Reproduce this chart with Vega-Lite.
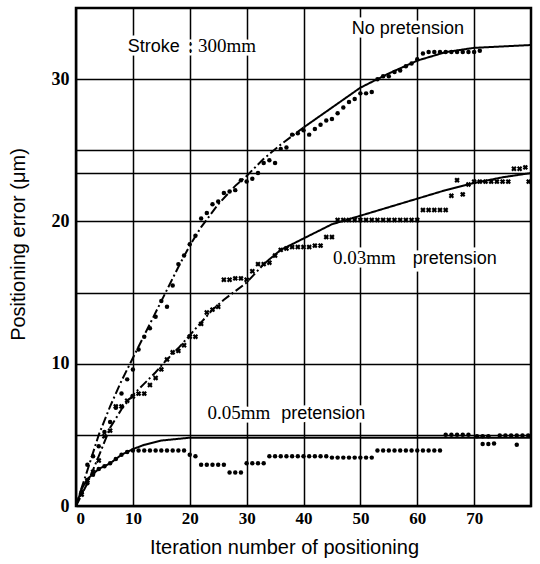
{
  "$schema": "https://vega.github.io/schema/vega-lite/v6.json",
  "width": 455,
  "height": 498,
  "autosize": "none",
  "padding": {"left": 76, "top": 8, "right": 9, "bottom": 58},
  "background": "white",
  "config": {
    "view": {"stroke": "black", "strokeWidth": 2.5},
    "axis": {"gridColor": "black", "gridWidth": 1.5, "gridOpacity": 1, "domain": false, "ticks": false,
      "labelFont": "Liberation Serif", "labelFontWeight": "bold", "labelFontSize": 17, "labelColor": "black",
      "titleFont": "Liberation Sans", "titleFontWeight": "normal", "titleColor": "black"}
  },
  "datasets": {
    "curves": [
      {"s": "np", "seg": "dash", "x": 0, "y": 0}, {"s": "np", "seg": "dash", "x": 1, "y": 1.3}, {"s": "np", "seg": "dash", "x": 2, "y": 2.5},
      {"s": "np", "seg": "dash", "x": 4, "y": 5}, {"s": "np", "seg": "dash", "x": 6, "y": 7}, {"s": "np", "seg": "dash", "x": 8, "y": 8.8},
      {"s": "np", "seg": "dash", "x": 10, "y": 10.4}, {"s": "np", "seg": "dash", "x": 12, "y": 12}, {"s": "np", "seg": "dash", "x": 15, "y": 14.4},
      {"s": "np", "seg": "dash", "x": 18, "y": 16.8}, {"s": "np", "seg": "dash", "x": 20, "y": 18.3}, {"s": "np", "seg": "dash", "x": 22, "y": 19.6},
      {"s": "np", "seg": "dash", "x": 25, "y": 21.2}, {"s": "np", "seg": "dash", "x": 28, "y": 22.5}, {"s": "np", "seg": "dash", "x": 30, "y": 23.2},
      {"s": "np", "seg": "dash", "x": 33, "y": 24.4}, {"s": "np", "seg": "dash", "x": 36, "y": 25.4}, {"s": "np", "seg": "dash", "x": 40, "y": 26.6},
      {"s": "np", "seg": "solid", "x": 40, "y": 26.6}, {"s": "np", "seg": "solid", "x": 45, "y": 28}, {"s": "np", "seg": "solid", "x": 50, "y": 29.4},
      {"s": "np", "seg": "solid", "x": 55, "y": 30.4}, {"s": "np", "seg": "solid", "x": 60, "y": 31.3}, {"s": "np", "seg": "solid", "x": 65, "y": 31.9},
      {"s": "np", "seg": "solid", "x": 70, "y": 32.2}, {"s": "np", "seg": "solid", "x": 75, "y": 32.3}, {"s": "np", "seg": "solid", "x": 80, "y": 32.4},
      {"s": "p3", "seg": "dash", "x": 0, "y": 0}, {"s": "p3", "seg": "dash", "x": 2, "y": 1.6}, {"s": "p3", "seg": "dash", "x": 4, "y": 3.5},
      {"s": "p3", "seg": "dash", "x": 6, "y": 5.5}, {"s": "p3", "seg": "dash", "x": 8, "y": 6.8}, {"s": "p3", "seg": "dash", "x": 10, "y": 7.8},
      {"s": "p3", "seg": "dash", "x": 12, "y": 8.6}, {"s": "p3", "seg": "dash", "x": 14, "y": 9.4}, {"s": "p3", "seg": "dash", "x": 16, "y": 10.3},
      {"s": "p3", "seg": "dash", "x": 18, "y": 11.1}, {"s": "p3", "seg": "dash", "x": 20, "y": 12}, {"s": "p3", "seg": "dash", "x": 22, "y": 12.9},
      {"s": "p3", "seg": "dash", "x": 24, "y": 13.8}, {"s": "p3", "seg": "dash", "x": 26, "y": 14.5}, {"s": "p3", "seg": "dash", "x": 28, "y": 15.1},
      {"s": "p3", "seg": "dash", "x": 30, "y": 15.7}, {"s": "p3", "seg": "dash", "x": 33, "y": 17},
      {"s": "p3", "seg": "solid", "x": 33, "y": 17}, {"s": "p3", "seg": "solid", "x": 36, "y": 18}, {"s": "p3", "seg": "solid", "x": 40, "y": 18.8},
      {"s": "p3", "seg": "solid", "x": 45, "y": 19.8}, {"s": "p3", "seg": "solid", "x": 50, "y": 20.4}, {"s": "p3", "seg": "solid", "x": 55, "y": 21},
      {"s": "p3", "seg": "solid", "x": 60, "y": 21.6}, {"s": "p3", "seg": "solid", "x": 65, "y": 22.2}, {"s": "p3", "seg": "solid", "x": 70, "y": 22.7},
      {"s": "p3", "seg": "solid", "x": 75, "y": 23.1}, {"s": "p3", "seg": "solid", "x": 80, "y": 23.4},
      {"s": "p5", "seg": "solid", "x": 0, "y": 0}, {"s": "p5", "seg": "solid", "x": 1, "y": 1.2}, {"s": "p5", "seg": "solid", "x": 2, "y": 1.9},
      {"s": "p5", "seg": "solid", "x": 4, "y": 2.6}, {"s": "p5", "seg": "solid", "x": 6, "y": 3.0}, {"s": "p5", "seg": "solid", "x": 8, "y": 3.6},
      {"s": "p5", "seg": "solid", "x": 10, "y": 4.0}, {"s": "p5", "seg": "solid", "x": 12, "y": 4.3}, {"s": "p5", "seg": "solid", "x": 15, "y": 4.6},
      {"s": "p5", "seg": "solid", "x": 20, "y": 4.8}, {"s": "p5", "seg": "solid", "x": 80, "y": 4.8}
    ],
    "dots": [
      {"s": "np", "x": 1, "y": 1.0}, {"s": "np", "x": 2, "y": 2.9}, {"s": "np", "x": 3, "y": 3.5}, {"s": "np", "x": 4, "y": 4.2}, {"s": "np", "x": 5, "y": 5.2},
      {"s": "np", "x": 6, "y": 5.9}, {"s": "np", "x": 7, "y": 6.9}, {"s": "np", "x": 8, "y": 7.9}, {"s": "np", "x": 9, "y": 8.9}, {"s": "np", "x": 10, "y": 9.6},
      {"s": "np", "x": 11, "y": 11.0}, {"s": "np", "x": 12, "y": 11.9}, {"s": "np", "x": 13, "y": 12.5}, {"s": "np", "x": 14, "y": 13.3}, {"s": "np", "x": 15, "y": 14.4},
      {"s": "np", "x": 16, "y": 14.0}, {"s": "np", "x": 17, "y": 15.5}, {"s": "np", "x": 18, "y": 17.0}, {"s": "np", "x": 19, "y": 17.6}, {"s": "np", "x": 20, "y": 18.4},
      {"s": "np", "x": 21, "y": 19.0}, {"s": "np", "x": 22, "y": 20.2}, {"s": "np", "x": 23, "y": 20.6}, {"s": "np", "x": 24, "y": 21.2}, {"s": "np", "x": 25, "y": 21.4},
      {"s": "np", "x": 26, "y": 22.0}, {"s": "np", "x": 27, "y": 22.1}, {"s": "np", "x": 28, "y": 22.2}, {"s": "np", "x": 29, "y": 22.9}, {"s": "np", "x": 30, "y": 22.8},
      {"s": "np", "x": 31, "y": 23.0}, {"s": "np", "x": 32, "y": 23.4}, {"s": "np", "x": 33, "y": 24.1}, {"s": "np", "x": 34, "y": 24.3}, {"s": "np", "x": 35, "y": 24.1},
      {"s": "np", "x": 36, "y": 25.1}, {"s": "np", "x": 37, "y": 25.2}, {"s": "np", "x": 38, "y": 26.1}, {"s": "np", "x": 39, "y": 26.2}, {"s": "np", "x": 40, "y": 26.4},
      {"s": "np", "x": 41, "y": 26.1}, {"s": "np", "x": 42, "y": 26.5}, {"s": "np", "x": 43, "y": 26.8}, {"s": "np", "x": 44, "y": 27.1}, {"s": "np", "x": 45, "y": 27.2},
      {"s": "np", "x": 46, "y": 27.6}, {"s": "np", "x": 47, "y": 28.0}, {"s": "np", "x": 48, "y": 28.4}, {"s": "np", "x": 49, "y": 28.6}, {"s": "np", "x": 50, "y": 29.0},
      {"s": "np", "x": 51, "y": 29.0}, {"s": "np", "x": 52, "y": 29.1}, {"s": "np", "x": 53, "y": 30.0}, {"s": "np", "x": 54, "y": 30.2}, {"s": "np", "x": 55, "y": 30.2},
      {"s": "np", "x": 56, "y": 30.5}, {"s": "np", "x": 57, "y": 30.6}, {"s": "np", "x": 58, "y": 30.9}, {"s": "np", "x": 59, "y": 31.1}, {"s": "np", "x": 60, "y": 31.4},
      {"s": "np", "x": 61, "y": 31.8}, {"s": "np", "x": 62, "y": 31.9}, {"s": "np", "x": 63, "y": 31.9}, {"s": "np", "x": 64, "y": 31.9}, {"s": "np", "x": 65, "y": 31.9},
      {"s": "np", "x": 66, "y": 31.9}, {"s": "np", "x": 67, "y": 31.9}, {"s": "np", "x": 68, "y": 31.9}, {"s": "np", "x": 69, "y": 31.9}, {"s": "np", "x": 70, "y": 31.9},
      {"s": "np", "x": 71, "y": 32.0},
      {"s": "p5", "x": 1, "y": 1.0}, {"s": "p5", "x": 2, "y": 1.6}, {"s": "p5", "x": 3, "y": 2.2}, {"s": "p5", "x": 4, "y": 2.6}, {"s": "p5", "x": 5, "y": 2.8},
      {"s": "p5", "x": 6, "y": 3.0}, {"s": "p5", "x": 7, "y": 3.3}, {"s": "p5", "x": 8, "y": 3.6}, {"s": "p5", "x": 9, "y": 3.8}, {"s": "p5", "x": 10, "y": 3.9},
      {"s": "p5", "x": 11, "y": 3.9}, {"s": "p5", "x": 12, "y": 3.9}, {"s": "p5", "x": 13, "y": 3.9}, {"s": "p5", "x": 14, "y": 3.9}, {"s": "p5", "x": 15, "y": 3.9},
      {"s": "p5", "x": 16, "y": 3.9}, {"s": "p5", "x": 17, "y": 3.9}, {"s": "p5", "x": 18, "y": 3.9}, {"s": "p5", "x": 19, "y": 3.9}, {"s": "p5", "x": 20, "y": 3.6},
      {"s": "p5", "x": 21, "y": 3.5}, {"s": "p5", "x": 22, "y": 2.9}, {"s": "p5", "x": 23, "y": 2.9}, {"s": "p5", "x": 24, "y": 2.9}, {"s": "p5", "x": 25, "y": 2.9},
      {"s": "p5", "x": 26, "y": 2.9}, {"s": "p5", "x": 27, "y": 2.35}, {"s": "p5", "x": 28, "y": 2.35}, {"s": "p5", "x": 29, "y": 2.35}, {"s": "p5", "x": 30, "y": 3.0},
      {"s": "p5", "x": 31, "y": 3.0}, {"s": "p5", "x": 32, "y": 3.0}, {"s": "p5", "x": 33, "y": 3.0}, {"s": "p5", "x": 34, "y": 3.5}, {"s": "p5", "x": 35, "y": 3.5},
      {"s": "p5", "x": 36, "y": 3.5}, {"s": "p5", "x": 37, "y": 3.5}, {"s": "p5", "x": 38, "y": 3.5}, {"s": "p5", "x": 39, "y": 3.5}, {"s": "p5", "x": 40, "y": 3.5},
      {"s": "p5", "x": 41, "y": 3.5}, {"s": "p5", "x": 42, "y": 3.5}, {"s": "p5", "x": 43, "y": 3.5}, {"s": "p5", "x": 44, "y": 3.5}, {"s": "p5", "x": 45, "y": 3.4},
      {"s": "p5", "x": 46, "y": 3.4}, {"s": "p5", "x": 47, "y": 3.4}, {"s": "p5", "x": 48, "y": 3.4}, {"s": "p5", "x": 49, "y": 3.4}, {"s": "p5", "x": 50, "y": 3.4},
      {"s": "p5", "x": 51, "y": 3.4}, {"s": "p5", "x": 52, "y": 3.4}, {"s": "p5", "x": 53, "y": 3.9}, {"s": "p5", "x": 54, "y": 3.9}, {"s": "p5", "x": 55, "y": 3.9},
      {"s": "p5", "x": 56, "y": 3.9}, {"s": "p5", "x": 57, "y": 3.9}, {"s": "p5", "x": 58, "y": 3.9}, {"s": "p5", "x": 59, "y": 3.9}, {"s": "p5", "x": 60, "y": 3.9},
      {"s": "p5", "x": 61, "y": 3.9}, {"s": "p5", "x": 62, "y": 3.9}, {"s": "p5", "x": 63, "y": 3.9}, {"s": "p5", "x": 64, "y": 3.9}, {"s": "p5", "x": 65, "y": 5.0},
      {"s": "p5", "x": 66, "y": 5.0}, {"s": "p5", "x": 67, "y": 5.0}, {"s": "p5", "x": 68, "y": 5.0}, {"s": "p5", "x": 69, "y": 5.0}, {"s": "p5", "x": 70.5, "y": 4.9},
      {"s": "p5", "x": 71.5, "y": 4.9}, {"s": "p5", "x": 72.5, "y": 4.9}, {"s": "p5", "x": 71.5, "y": 4.35}, {"s": "p5", "x": 72.5, "y": 4.35}, {"s": "p5", "x": 73.5, "y": 4.4},
      {"s": "p5", "x": 74.5, "y": 4.95}, {"s": "p5", "x": 75.5, "y": 4.95}, {"s": "p5", "x": 76.5, "y": 4.95}, {"s": "p5", "x": 77.5, "y": 4.95}, {"s": "p5", "x": 78.5, "y": 4.95},
      {"s": "p5", "x": 79.5, "y": 4.95}, {"s": "p5", "x": 77.5, "y": 4.3}
    ],
    "crosses": [
      {"s": "p3", "x": 1, "y": 0.8}, {"s": "p3", "x": 2, "y": 1.8}, {"s": "p3", "x": 3, "y": 2.4}, {"s": "p3", "x": 4, "y": 3.2}, {"s": "p3", "x": 5, "y": 4.9},
      {"s": "p3", "x": 6, "y": 5.3}, {"s": "p3", "x": 7, "y": 7.0}, {"s": "p3", "x": 8, "y": 7.0}, {"s": "p3", "x": 9, "y": 7.4}, {"s": "p3", "x": 10, "y": 7.7},
      {"s": "p3", "x": 11, "y": 7.9}, {"s": "p3", "x": 12, "y": 7.9}, {"s": "p3", "x": 13, "y": 8.5}, {"s": "p3", "x": 14, "y": 9.0}, {"s": "p3", "x": 15, "y": 9.6},
      {"s": "p3", "x": 16, "y": 10.3}, {"s": "p3", "x": 17, "y": 10.8}, {"s": "p3", "x": 18, "y": 10.9}, {"s": "p3", "x": 19, "y": 11.3}, {"s": "p3", "x": 20, "y": 11.9},
      {"s": "p3", "x": 21, "y": 11.9}, {"s": "p3", "x": 22, "y": 12.8}, {"s": "p3", "x": 23, "y": 13.6}, {"s": "p3", "x": 24, "y": 13.8}, {"s": "p3", "x": 25, "y": 14.0},
      {"s": "p3", "x": 26, "y": 15.9}, {"s": "p3", "x": 27, "y": 15.9}, {"s": "p3", "x": 28, "y": 16.0}, {"s": "p3", "x": 29, "y": 16.0}, {"s": "p3", "x": 30, "y": 15.9},
      {"s": "p3", "x": 31, "y": 16.5}, {"s": "p3", "x": 32, "y": 17.0}, {"s": "p3", "x": 33, "y": 17.0}, {"s": "p3", "x": 34, "y": 17.1}, {"s": "p3", "x": 35, "y": 17.6},
      {"s": "p3", "x": 36, "y": 18.0}, {"s": "p3", "x": 37, "y": 18.1}, {"s": "p3", "x": 38, "y": 18.2}, {"s": "p3", "x": 39, "y": 18.2}, {"s": "p3", "x": 40, "y": 18.2},
      {"s": "p3", "x": 41, "y": 18.2}, {"s": "p3", "x": 42, "y": 18.3}, {"s": "p3", "x": 43, "y": 18.3}, {"s": "p3", "x": 44, "y": 18.9}, {"s": "p3", "x": 45, "y": 18.9},
      {"s": "p3", "x": 46, "y": 20.1}, {"s": "p3", "x": 47, "y": 20.1}, {"s": "p3", "x": 48, "y": 20.1}, {"s": "p3", "x": 49, "y": 20.1}, {"s": "p3", "x": 50, "y": 20.1},
      {"s": "p3", "x": 51, "y": 20.1}, {"s": "p3", "x": 52, "y": 20.1}, {"s": "p3", "x": 53, "y": 20.1}, {"s": "p3", "x": 54, "y": 20.1}, {"s": "p3", "x": 55, "y": 20.1},
      {"s": "p3", "x": 56, "y": 20.1}, {"s": "p3", "x": 57, "y": 20.1}, {"s": "p3", "x": 58, "y": 20.1}, {"s": "p3", "x": 59, "y": 20.1}, {"s": "p3", "x": 60, "y": 20.1},
      {"s": "p3", "x": 61, "y": 20.8}, {"s": "p3", "x": 62, "y": 20.8}, {"s": "p3", "x": 63, "y": 20.8}, {"s": "p3", "x": 64, "y": 20.8}, {"s": "p3", "x": 65, "y": 20.8},
      {"s": "p3", "x": 66, "y": 21.8}, {"s": "p3", "x": 67, "y": 22.9}, {"s": "p3", "x": 68, "y": 21.9}, {"s": "p3", "x": 69, "y": 22.6}, {"s": "p3", "x": 70, "y": 22.8},
      {"s": "p3", "x": 71, "y": 22.8}, {"s": "p3", "x": 72, "y": 22.8}, {"s": "p3", "x": 73, "y": 22.8}, {"s": "p3", "x": 74, "y": 22.8}, {"s": "p3", "x": 75, "y": 22.8},
      {"s": "p3", "x": 76, "y": 22.8}, {"s": "p3", "x": 77, "y": 23.7}, {"s": "p3", "x": 78, "y": 23.7}, {"s": "p3", "x": 79, "y": 23.8}, {"s": "p3", "x": 79.6, "y": 22.8}
    ],
    "sansText": [
      {"t": "Stroke", "x": 9.1, "y": 31.9},
      {"t": "No pretension", "x": 48.5, "y": 33.2},
      {"t": "pretension", "x": 59.2, "y": 17.0},
      {"t": "pretension", "x": 36.1, "y": 6.1}
    ],
    "serifText": [
      {"t": ": 300mm", "x": 19.7, "y": 31.9},
      {"t": "0.03mm", "x": 45.2, "y": 17.0},
      {"t": "0.05mm", "x": 23.1, "y": 6.1}
    ]
  },
  "encoding": {
    "x": {"field": "x", "type": "quantitative", "scale": {"domain": [0, 80], "nice": false},
      "axis": {"values": [0, 10, 20, 30, 40, 50, 60, 70], "grid": true, "labelPadding": 4, "labelFontSize": 17,
        "title": "Iteration number of positioning", "titleFontSize": 20, "titleX": 208, "titleY": 31}},
    "y": {"field": "y", "type": "quantitative", "scale": {"domain": [0, 35], "nice": false},
      "axis": {"values": [0, 5, 10, 15, 20, 23.4, 25, 30], "grid": true, "labelPadding": 7, "labelFontSize": 18,
        "labelExpr": "(datum.value == 0 || datum.value == 10 || datum.value == 20 || datum.value == 30) ? datum.label : ''",
        "title": "Positioning error  (μm)", "titleFontSize": 20, "titleX": -48, "titleY": 236}}
  },
  "layer": [
    {
      "data": {"name": "curves"},
      "mark": {"type": "line", "color": "black", "strokeWidth": 2},
      "encoding": {
        "detail": {"field": "s"},
        "strokeDash": {"field": "seg", "type": "nominal", "scale": {"domain": ["dash", "solid"], "range": [[9, 3, 2, 3], [1, 0]]}, "legend": null}
      }
    },
    {
      "data": {"name": "dots"},
      "mark": {"type": "point", "shape": "circle", "filled": true, "color": "black", "size": 20, "opacity": 1}
    },
    {
      "data": {"name": "crosses"},
      "mark": {"type": "point", "shape": "cross", "angle": 45, "filled": true, "color": "black", "size": 30, "opacity": 1}
    },
    {
      "data": {"name": "sansText"},
      "mark": {"type": "text", "align": "left", "baseline": "alphabetic", "font": "Liberation Sans", "fontSize": 18, "stroke": "white", "strokeWidth": 7, "fill": "white"},
      "encoding": {"text": {"field": "t"}}
    },
    {
      "data": {"name": "serifText"},
      "mark": {"type": "text", "align": "left", "baseline": "alphabetic", "font": "Liberation Serif", "fontSize": 19, "stroke": "white", "strokeWidth": 7, "fill": "white"},
      "encoding": {"text": {"field": "t"}}
    },
    {
      "data": {"name": "sansText"},
      "mark": {"type": "text", "align": "left", "baseline": "alphabetic", "font": "Liberation Sans", "fontSize": 18, "color": "black"},
      "encoding": {"text": {"field": "t"}}
    },
    {
      "data": {"name": "serifText"},
      "mark": {"type": "text", "align": "left", "baseline": "alphabetic", "font": "Liberation Serif", "fontSize": 19, "color": "black"},
      "encoding": {"text": {"field": "t"}}
    }
  ]
}
